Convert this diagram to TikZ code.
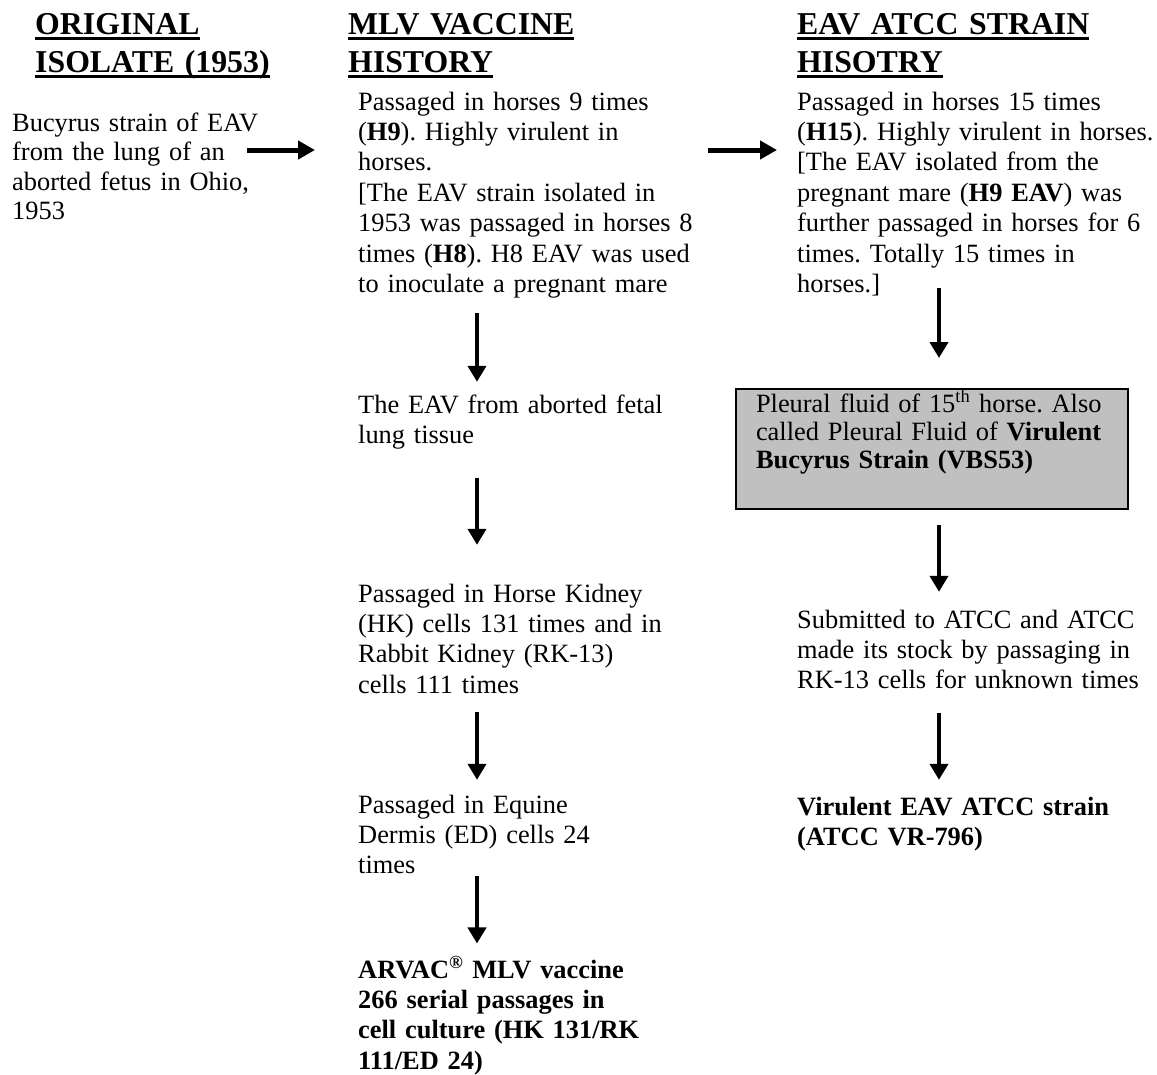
\documentclass[tikz,border=0pt]{standalone}
\usepackage{fontspec}
\setmainfont{Liberation Serif}
\usetikzlibrary{arrows.meta,calc}
\frenchspacing
\newsavebox\myulbox
\newcommand\myul[1]{\leavevmode\sbox\myulbox{#1}\rlap{\rule[-5.5pt]{\wd\myulbox}{3pt}}\usebox\myulbox}
\newcommand\myTop{\rule{0pt}{20pt}}
\newcommand\myBot{\rule[-7pt]{0pt}{7pt}}
\newcommand\bodyfont{\fontsize{26.4pt}{30.4pt}\selectfont}
\newcommand\leftfont{\fontsize{26.4pt}{29.5pt}\selectfont}
\newcommand\boxfont{\fontsize{26.4pt}{28pt}\selectfont}
\newcommand\headfont{\fontsize{31.8pt}{38pt}\selectfont\bfseries}
\definecolor{boxgray}{RGB}{192,192,192}
\begin{document}
\begin{tikzpicture}[x=1pt,y=-1pt,
  blk/.style={font=\bodyfont, align=left, inner sep=0pt, anchor=base west, text width=#1},
  blk/.default=360pt,
  lblk/.style={font=\leftfont, align=left, inner sep=0pt, anchor=base west, text width=#1},
  head/.style={font=\headfont, align=left, inner sep=0pt, anchor=base west, text width=#1},
  gbox/.style={font=\boxfont, align=left, draw=black, line width=2pt, fill=boxgray,
               inner xsep=20pt, inner ysep=0pt, anchor=north west, text width=352pt},
  varr/.style={line width=4pt, -{Triangle[length=16pt,width=18pt]}},
  harr/.style={line width=5pt, -{Triangle[length=17pt,width=18pt]}}
]
\fill[white] (0,0) rectangle (1157,1074);
\useasboundingbox (0,0) rectangle (1157,1074);

% headings
\node[head=300pt] (c1h) at (35,34) {\myul{ORIGINAL}\\\myul{ISOLATE (1953)}};
\node[head=320pt] (c2h) at (348,34) {\myul{MLV VACCINE}\\\myul{HISTORY}};
\node[head=340pt] (c3h) at (797,34) {\myul{EAV ATCC STRAIN}\\\myul{HISOTRY}};

% column 1
\node[lblk=260pt] (c1b) at (12,131) {\myTop Bucyrus strain of EAV\\from the lung of an\\aborted fetus in Ohio,\\1953\myBot};

% column 2
\node[blk=360pt] (m1) at (358,110) {\myTop Passaged in horses 9 times\\(\textbf{H9}). Highly virulent in\\horses.\\{}[The EAV strain isolated in\\1953 was passaged in horses 8\\times (\textbf{H8}). H8 EAV was used\\to inoculate a pregnant mare\myBot};
\node[blk=360pt] (m2) at (358,413) {\myTop The EAV from aborted fetal\\lung tissue\myBot};
\node[blk=360pt] (m3) at (358,602) {\myTop Passaged in Horse Kidney\\(HK) cells 131 times and in\\Rabbit Kidney (RK-13)\\cells 111 times\myBot};
\node[blk=360pt] (m4) at (358,813) {\myTop Passaged in Equine\\Dermis (ED) cells 24\\times\myBot};
\node[blk=360pt, font=\bodyfont\bfseries] (m5) at (358,978) {\myTop ARVAC\textsuperscript{\textregistered} MLV vaccine\\266 serial passages in\\cell culture (HK 131/RK\\111/ED 24)\myBot};

% column 3
\node[blk=360pt] (r1) at (797,110) {\myTop Passaged in horses 15 times\\(\textbf{H15}). Highly virulent in horses.\\{}[The EAV isolated from the\\pregnant mare (\textbf{H9 EAV}) was\\further passaged in horses for 6\\times. Totally 15 times in\\horses.]\myBot};
\node[gbox] (box) at (735,388) {\rule{0pt}{23pt}Pleural fluid of 15\textsuperscript{th} horse. Also\\called Pleural Fluid of \textbf{Virulent}\\\textbf{Bucyrus Strain (VBS53)}\rule[-41pt]{0pt}{41pt}};
\node[blk=360pt] (r3) at (797,628) {\myTop Submitted to ATCC and ATCC\\made its stock by passaging in\\RK-13 cells for unknown times\myBot};
\node[blk=360pt, font=\bodyfont\bfseries] (r4) at (797,815) {\myTop Virulent EAV ATCC strain\\(ATCC VR-796)\myBot};

% helper coordinates
\coordinate (ah) at (0,150);
\coordinate (ax2) at (477,0);
\coordinate (ax3) at (939,0);

% horizontal arrows
\draw[harr] ([xshift=-25pt]c1b.east |- ah) -- ([xshift=-43pt]m1.west |- ah);
\draw[harr] ([xshift=-10pt]m1.east |- ah) -- ([xshift=-20pt]r1.west |- ah);

% column 2 arrows
\draw[varr] ([yshift=-13pt]m1.south -| ax2) -- ([yshift=11pt]m2.north -| ax2);
\draw[varr] ([yshift=-27pt]m2.south -| ax2) -- ([yshift=37pt]m3.north -| ax2);
\draw[varr] ([yshift=-12pt]m3.south -| ax2) -- ([yshift=13pt]m4.north -| ax2);
\draw[varr] ([yshift=5pt]m4.south -| ax2) -- ([yshift=13pt]m5.north -| ax2);

% column 3 arrows
\draw[varr] ([yshift=12pt]r1.south -| ax3) -- ([yshift=30pt]box.north -| ax3);
\draw[varr] ([yshift=-15pt]box.south -| ax3) -- ([yshift=16pt]r3.north -| ax3);
\draw[varr] ([yshift=-17pt]r3.south -| ax3) -- ([yshift=15pt]r4.north -| ax3);
\end{tikzpicture}
\end{document}
